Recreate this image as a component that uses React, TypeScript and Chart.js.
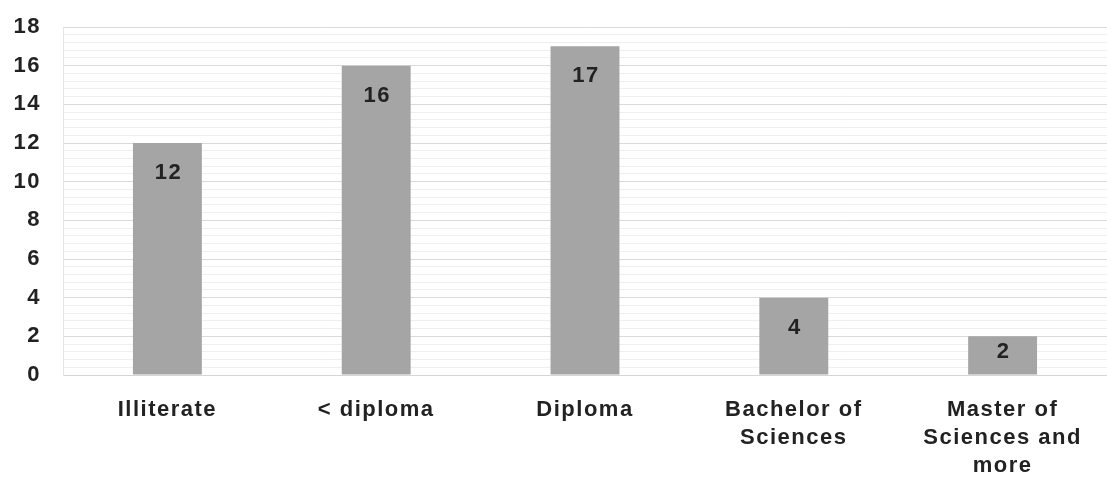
import { useEffect, useRef } from "react";
import { Chart, registerables } from "chart.js";

Chart.register(...registerables);

const CATEGORIES = [
	"Illiterate",
	"< diploma",
	"Diploma",
	["Bachelor of", "Sciences"],
	["Master of", "Sciences and", "more"],
];
const COUNTS = [12, 16, 17, 4, 2];
const Y_MAX = 18;
const Y_STEP = 0.4; // faint minor lines, labels every 2

const TEXT = "#222";
const FONT = { family: "'Liberation Sans', Arial, sans-serif", size: 22, weight: "bold" as const };
const GAP = "1.5px";

const isMajor = (v: number) => Math.abs(v / 2 - Math.round(v / 2)) < 1e-6;

// the source image is stretched sideways, so widen glyph spacing a bit
const spacing = {
	id: "spacing",
	beforeUpdate(chart: Chart) {
		(chart.ctx as any).letterSpacing = GAP;
	},
	beforeDraw(chart: Chart) {
		(chart.ctx as any).letterSpacing = GAP;
	},
};

const barValues = {
	id: "barValues",
	afterDatasetsDraw(chart: Chart) {
		const { ctx } = chart;
		const meta = chart.getDatasetMeta(0);
		ctx.save();
		ctx.font = `bold ${FONT.size}px ${FONT.family}`;
		ctx.fillStyle = TEXT;
		ctx.textAlign = "center";
		ctx.textBaseline = "middle";
		meta.data.forEach((el: any, i) => {
			const h = el.base - el.y;
			ctx.fillText(String(COUNTS[i]), el.x + 1, el.y + Math.min(30, h * 0.4));
		});
		ctx.restore();
	},
};

export default function App() {
	const ref = useRef<HTMLCanvasElement>(null);

	useEffect(() => {
		const canvas = ref.current;
		if (!canvas) {
			return;
		}

		const chart = new Chart(canvas, {
			type: "bar",
			data: {
				labels: CATEGORIES as any,
				datasets: [
					{
						data: COUNTS,
						backgroundColor: "#a5a5a5",
						barPercentage: 0.33,
						categoryPercentage: 1,
					},
				],
			},
			plugins: [spacing, barValues],
			options: {
				animation: false,
				responsive: false,
				// the source is cropped on the right, plot runs slightly past the edge
				layout: { padding: { left: 0, top: 27, right: -6, bottom: 0 } },
				plugins: {
					legend: { display: false },
					tooltip: { enabled: false },
				},
				scales: {
					x: {
						afterFit: (s: any) => {
							s.height = 104;
							s.paddingLeft = 0;
							s.paddingRight = 0;
						},
						grid: { display: false, drawTicks: false },
						border: { display: true, color: "#d6d6d6" },
						ticks: {
							color: TEXT,
							font: { ...FONT, lineHeight: 1.27 },
							padding: 21,
							maxRotation: 0,
							autoSkip: false,
						},
					},
					y: {
						min: 0,
						max: Y_MAX,
						afterFit: (s: any) => {
							s.width = 63;
							s.paddingTop = 0;
							s.paddingBottom = 0;
						},
						grid: {
							drawTicks: false,
							color: (c: any) => (isMajor(c.tick.value) ? "#dadada" : "#efefef"),
						},
						border: { display: true, color: "#e4e4e4" },
						ticks: {
							stepSize: Y_STEP,
							autoSkip: false,
							color: TEXT,
							font: FONT,
							padding: 22,
							callback: (v: any) => (isMajor(Number(v)) ? String(Math.round(Number(v))) : ""),
						},
					},
				},
			},
		});

		return () => {
			chart.destroy();
		};
	}, []);

	return (
		<div style={{ position: "absolute", left: 0, top: 0, width: 1107, height: 479, background: "#fff", overflow: "hidden" }}>
			<canvas ref={ref} width={1107} height={479} />
		</div>
	);
}
